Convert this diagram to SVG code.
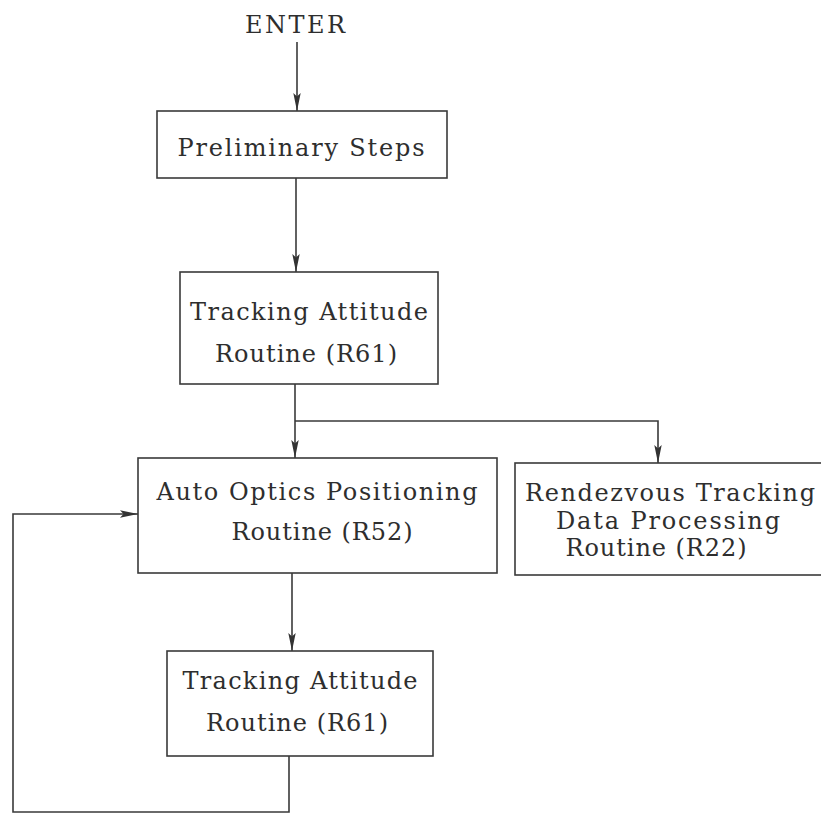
<svg xmlns="http://www.w3.org/2000/svg" width="821" height="815" viewBox="0 0 821 815">
  <style>
    .box { fill: #fff; stroke: #3a3a3a; stroke-width: 1.6; }
    .lbl { font-family: "DejaVu Serif", "Liberation Serif", serif; font-size: 24px; fill: #2e2e2e; text-anchor: middle; }
    .wire { fill: none; stroke: #3a3a3a; stroke-width: 1.6; }
  </style>
  <defs>
    <marker id="arrow" viewBox="0 0 18 8" refX="18" refY="4" markerWidth="18" markerHeight="8" markerUnits="userSpaceOnUse" orient="auto">
      <path d="M0,0.3 L18,4 L0,7.7 L3.5,4 Z" fill="#333"/>
    </marker>
  </defs>

  <rect width="821" height="815" fill="#fff"/>

  <!-- connectors -->
  <g id="connectors">
    <line class="wire" x1="297" y1="42" x2="297" y2="111" marker-end="url(#arrow)"/>
    <line class="wire" x1="296" y1="178" x2="296" y2="272" marker-end="url(#arrow)"/>
    <line class="wire" x1="295" y1="384" x2="295" y2="458" marker-end="url(#arrow)"/>
    <polyline class="wire" points="295,421 658,421 658,463" marker-end="url(#arrow)"/>
    <line class="wire" x1="292" y1="573" x2="292" y2="651" marker-end="url(#arrow)"/>
    <polyline class="wire" points="289,756 289,812 13,812 13,514 138,514" marker-end="url(#arrow)"/>
  </g>

  <!-- entry label -->
  <g id="enter">
    <text class="lbl" x="295" y="33" textLength="100" lengthAdjust="spacing">ENTER</text>
  </g>

  <g id="preliminary">
    <rect class="box" x="157" y="111" width="290" height="67"/>
    <text class="lbl" x="301" y="156" textLength="247" lengthAdjust="spacing">Preliminary Steps</text>
  </g>

  <g id="tracking1">
    <rect class="box" x="180" y="272" width="258" height="112"/>
    <text class="lbl" x="309" y="320" textLength="238" lengthAdjust="spacing">Tracking Attitude</text>
    <text class="lbl" x="306" y="362" textLength="182" lengthAdjust="spacing">Routine (R61)</text>
  </g>

  <g id="optics">
    <rect class="box" x="138" y="458" width="359" height="115"/>
    <text class="lbl" x="317" y="500" textLength="321" lengthAdjust="spacing">Auto Optics Positioning</text>
    <text class="lbl" x="322" y="540" textLength="181" lengthAdjust="spacing">Routine (R52)</text>
  </g>

  <g id="rendezvous">
    <rect class="box" x="515" y="463" width="320" height="112"/>
    <text class="lbl" x="670" y="501" textLength="290" lengthAdjust="spacing">Rendezvous Tracking</text>
    <text class="lbl" x="668" y="529" textLength="224" lengthAdjust="spacing">Data Processing</text>
    <text class="lbl" x="656" y="556" textLength="181" lengthAdjust="spacing">Routine (R22)</text>
  </g>

  <g id="tracking2">
    <rect class="box" x="167" y="651" width="266" height="105"/>
    <text class="lbl" x="300" y="689" textLength="235" lengthAdjust="spacing">Tracking Attitude</text>
    <text class="lbl" x="297" y="731" textLength="182" lengthAdjust="spacing">Routine (R61)</text>
  </g>
</svg>
